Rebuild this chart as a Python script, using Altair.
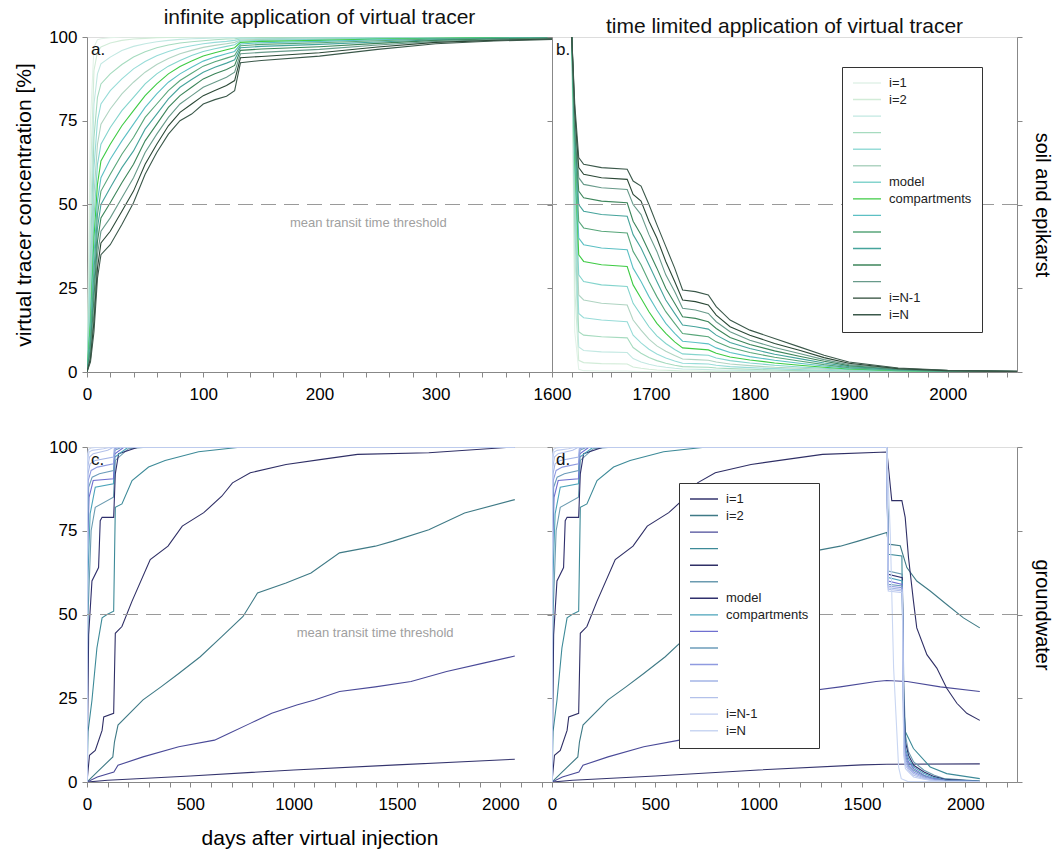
import altair as alt
import pandas as pd

FONT = "Liberation Sans"

SERIES = ["s01", "s02", "s03", "s04", "s05", "s06", "s07", "s08",
          "s09", "s10", "s11", "s12", "s13", "s14", "s15"]
LEGEND_LABELS = ["i=1", "i=2", "", "", "", "", "model", "compartments",
                 "", "", "", "", "", "i=N-1", "i=N"]

GREEN = ["#e2f2e8", "#d2ecd8", "#c2e8e2", "#a6dbbf", "#98dcd8", "#b0d4c2", "#84d4cd",
         "#3ecb44", "#5cc0c4", "#58a67a", "#46a49c", "#3c855a", "#689a8a", "#2b4836", "#3b584a"]
BLUE = ["#34346e", "#3f7a86", "#4a4a98", "#3d8a98", "#2f2f66", "#6b9bb0", "#2f2f6c",
        "#4aa3ba", "#6f6fd0", "#6c9cba", "#8f9ae0", "#a3b4e6", "#b3c1ea", "#c0cdf0", "#c9d6f2"]

THRESHOLD = [50]
THRESHOLD_LABEL = ["mean transit time threshold"]

# ---------- panel a: infinite application, soil and epikarst ----------
A_X = [0, 3, 6, 9, 12, 20, 30, 40, 50, 60, 70, 80, 90, 100, 110, 120, 127, 132,
       150, 200, 250, 300, 350, 400]
A_Y = [
    [0, 75, 97, 99.2, 99.5, 99.8, 100, 100, 100, 100, 100, 100, 100, 100, 100, 100, 100, 100, 100, 100, 100, 100, 100, 100],
    [0, 58, 90, 95.5, 97, 98.2, 99, 99.4, 99.6, 99.8, 99.9, 99.9, 100, 100, 100, 100, 100, 100, 100, 100, 100, 100, 100, 100],
    [0, 45, 80, 89, 92, 94, 96, 97.2, 98, 98.6, 99, 99.3, 99.5, 99.6, 99.7, 99.8, 99.8, 99.9, 99.9, 100, 100, 100, 100, 100],
    [0, 35, 70, 82, 86, 89, 91.8, 94, 95.6, 96.8, 97.6, 98.2, 98.6, 98.9, 99.2, 99.4, 99.5, 99.7, 99.8, 99.9, 99.9, 100, 100, 100],
    [0, 28, 61, 75, 80, 84, 87.5, 90.5, 92.7, 94.4, 95.7, 96.7, 97.4, 98, 98.4, 98.7, 99, 99.4, 99.5, 99.7, 99.8, 99.9, 100, 100],
    [0, 22, 53, 68, 74, 78.5, 83, 86.5, 89.5, 91.8, 93.6, 95, 96, 96.9, 97.5, 98, 98.4, 99.1, 99.3, 99.5, 99.7, 99.8, 99.9, 100],
    [0, 18, 46, 62, 68, 73, 78, 82, 86, 89, 91.3, 93, 94.5, 95.7, 96.5, 97.2, 97.7, 98.8, 99, 99.3, 99.6, 99.7, 99.9, 99.9],
    [0, 15, 40, 56, 63, 68, 73.5, 78, 82.5, 86, 89, 91.2, 92.8, 94.3, 95.3, 96.2, 96.8, 98.4, 98.7, 99, 99.4, 99.6, 99.8, 99.9],
    [0, 12, 35, 51, 58, 63.5, 69, 74, 79, 83, 86.5, 89, 91, 92.8, 94, 95, 95.7, 97.9, 98.3, 98.7, 99.2, 99.5, 99.7, 99.8],
    [0, 10, 30, 47, 54, 59, 65, 70, 76, 80, 84, 87, 89.2, 91.3, 92.6, 93.7, 94.5, 97.4, 97.8, 98.3, 98.9, 99.4, 99.6, 99.8],
    [0, 8, 26, 43, 50, 55, 61, 66, 72.5, 77, 81.5, 85, 87.3, 89.5, 91, 92.2, 93.2, 96.8, 97.2, 97.8, 98.5, 99.2, 99.5, 99.7],
    [0, 6, 22, 39, 46, 50.5, 56.5, 62, 69, 74, 79, 82.5, 85, 87.5, 89, 90.3, 91.5, 96, 96.4, 97.1, 98.1, 99, 99.4, 99.6],
    [0, 5, 18, 35, 42, 46, 52, 58, 65.5, 71, 76, 80, 82.5, 85, 86.5, 88, 89.5, 95, 95.4, 96.3, 97.6, 98.7, 99.2, 99.5],
    [0, 4, 15, 31, 38.5, 42, 48, 54, 62, 68, 73.5, 77.5, 80, 82.5, 84, 85.5, 87, 93.8, 94.2, 95.3, 97, 98.4, 99, 99.4],
    [0, 3, 12, 28, 35, 38, 44, 50.5, 59, 65.5, 71, 75, 77, 80, 81.3, 82.3, 84, 92.3, 93, 94.3, 96.3, 98, 98.8, 99.3],
]

# ---------- panel b: time limited application, soil and epikarst ----------
B_X = [1620, 1623, 1627, 1632, 1650, 1676, 1682, 1690, 1698, 1706, 1715, 1724, 1732,
       1745, 1758, 1766, 1780, 1800, 1825, 1850, 1875, 1900, 1950, 2000, 2070]
B_Y = [
    [100, 12, 0.8, 0.4, 0.3, 0.3, 0.2, 0.1, 0.1, 0, 0, 0, 0, 0, 0, 0, 0, 0, 0, 0, 0, 0, 0, 0, 0],
    [100, 25, 3.5, 2.8, 2.5, 2.4, 1.5, 1.1, 0.8, 0.6, 0.5, 0.4, 0.3, 0.3, 0.2, 0.2, 0.1, 0.1, 0.1, 0, 0, 0, 0, 0, 0],
    [100, 36, 7.5, 6.4, 6, 5.8, 4, 3, 2.3, 1.8, 1.4, 1.1, 0.9, 0.8, 0.7, 0.6, 0.5, 0.4, 0.3, 0.2, 0.1, 0.1, 0, 0, 0],
    [100, 44, 12, 11, 10.5, 10.2, 7.3, 5.6, 4.3, 3.4, 2.6, 2, 1.6, 1.5, 1.4, 1.2, 1, 0.8, 0.6, 0.4, 0.3, 0.2, 0.1, 0, 0],
    [100, 50, 17.5, 16.2, 15.5, 15, 11, 8.7, 6.8, 5.4, 4.2, 3.3, 2.6, 2.5, 2.4, 2, 1.6, 1.3, 1, 0.7, 0.5, 0.3, 0.1, 0, 0],
    [100, 56, 23, 21.5, 20.5, 20, 15.5, 12.5, 9.8, 7.8, 6.2, 4.9, 3.9, 3.7, 3.5, 3, 2.4, 1.9, 1.4, 1.1, 0.8, 0.5, 0.2, 0.1, 0],
    [100, 60, 29, 27, 26, 25.5, 20.5, 17, 13.5, 10.8, 8.5, 6.7, 5.4, 5.2, 5, 4.2, 3.4, 2.7, 2, 1.5, 1.1, 0.7, 0.3, 0.1, 0],
    [100, 64, 35, 33, 32, 31.5, 26, 22, 18, 14.5, 11.5, 9, 7.2, 6.9, 6.6, 5.6, 4.5, 3.6, 2.7, 2, 1.4, 0.9, 0.4, 0.2, 0.1],
    [100, 67, 40, 38, 37, 36.5, 31, 27, 22.5, 18.5, 14.5, 11.5, 9.2, 8.8, 8.4, 7.2, 5.8, 4.6, 3.5, 2.6, 1.8, 1.1, 0.5, 0.2, 0.1],
    [100, 70, 45, 43, 42, 41.5, 36, 32, 27, 22.5, 18, 14.5, 11.5, 11, 10.5, 9, 7.3, 5.8, 4.4, 3.3, 2.2, 1.3, 0.6, 0.2, 0.1],
    [100, 72, 50, 48, 47, 46.5, 41, 37, 32, 27, 21.5, 17.5, 14, 13.5, 12.8, 11, 8.8, 7, 5.3, 4, 2.7, 1.6, 0.7, 0.3, 0.1],
    [100, 74, 54, 52, 51, 50.5, 45, 41, 36, 31, 25, 20.5, 16.5, 16, 15, 13, 10.3, 8.2, 6.3, 4.7, 3.2, 1.9, 0.8, 0.3, 0.1],
    [100, 76, 58, 56, 55, 54.5, 50, 47, 41, 36, 29, 24, 19, 18.5, 17.5, 15, 12, 9.5, 7.3, 5.5, 3.7, 2.2, 0.9, 0.4, 0.2],
    [100, 78, 61, 59, 58, 57.5, 53, 51, 45, 40, 33, 27, 21.5, 21, 20, 17, 13.5, 11, 8.5, 6.5, 4.3, 2.6, 1.0, 0.4, 0.2],
    [100, 80, 64, 62, 61, 60.5, 57, 55.5, 50, 44, 37.5, 31, 24.5, 24, 23, 19.5, 15.5, 12.5, 10, 7.5, 5, 3, 1.2, 0.5, 0.2],
]

# ---------- panel c: infinite application, groundwater ----------
C_X = [
    [0, 100, 500, 1000, 1500, 2070],
    [0, 50, 125, 133, 150, 271, 358, 444, 548, 652, 755, 825, 963, 1084, 1222, 1395, 1481, 1654, 1827, 2070],
    [0, 50, 130, 150, 271, 444, 617, 686, 790, 894, 1015, 1101, 1222, 1395, 1568, 1740, 1913, 2070],
    [0, 5, 24, 48, 73, 97, 129, 137, 169, 218, 298, 378, 540, 750, 2070],
    [0, 12, 40, 73, 81, 129, 137, 169, 218, 306, 392, 461, 565, 652, 704, 790, 963, 1136, 1309, 1654, 2070],
    [0, 5, 20, 40, 128, 137, 200, 300, 2070],
    [0, 8, 24, 56, 64, 73, 129, 137, 153, 250, 2070],
    [0, 4, 15, 40, 128, 135, 200, 2070],
    [0, 3, 10, 30, 128, 135, 180, 2070],
    [0, 3, 8, 25, 60, 128, 135, 170, 2070],
    [0, 2, 6, 20, 50, 128, 135, 160, 2070],
    [0, 2, 5, 15, 40, 128, 132, 150, 2070],
    [0, 1.5, 4, 12, 30, 100, 130, 2070],
    [0, 1, 3, 10, 25, 80, 120, 2070],
    [0, 1, 3, 8, 20, 60, 2070],
]
C_Y = [
    [0, 0.5, 1.8, 3.6, 5.1, 6.8],
    [0, 3, 7.5, 12, 17, 24.5, 28.4, 32.4, 37.4, 43.4, 49.4, 56.4, 59.4, 62.4, 68.4, 70.4, 71.9, 75.3, 80.3, 84.3],
    [0, 1.5, 3, 5, 7.5, 10.5, 12.5, 14.5, 17.5, 20.5, 23, 24.5, 27, 28.4, 30, 33, 35.4, 37.6],
    [0, 15, 24.4, 40, 49, 50, 51, 82, 83, 90, 94, 96, 98.6, 100, 100],
    [0, 8, 9.4, 15.4, 19.4, 20.5, 44.4, 46.4, 54, 66.4, 70.4, 76.4, 80.4, 85.3, 89.3, 92.3, 94.8, 96.3, 97.8, 98.3, 100],
    [0, 50, 75, 82, 85, 96, 99.5, 100, 100],
    [0, 44, 60, 64, 78, 79, 79, 92, 98, 100, 100],
    [0, 60, 80, 88, 89, 97, 100, 100],
    [0, 70, 85, 90, 90.5, 98, 100, 100],
    [0, 75, 88, 91, 92, 93, 99, 100, 100],
    [0, 80, 90, 93, 94, 95, 99.5, 100, 100],
    [0, 85, 92, 95, 96, 97, 99.6, 100, 100],
    [0, 88, 94, 97, 98, 99, 100, 100],
    [0, 90, 96, 98.5, 99, 99.5, 100, 100],
    [0, 93, 98, 99.3, 99.7, 100, 100],
]

# ---------- panel d: after the application stops (day 1620) ----------
D_X = [
    [1620, 2070],
    [1620, 1628, 1685, 1717, 1765, 1830, 1910, 1991, 2070],
    [1620, 1718, 1879, 2070],
    [1620, 1628, 1693, 1700, 1710, 1749, 1830, 1910, 2070],
    [1620, 1623, 1644, 1693, 1709, 1725, 1749, 1765, 1814, 1862, 1910, 1959, 2007, 2070],
    [1620, 1627, 1695, 1702, 1710, 1725, 1750, 1800, 1850, 1900, 2070],
    [1620, 1627, 1695, 1702, 1710, 1725, 1750, 1800, 1850, 1900, 2070],
    [1620, 1627, 1695, 1702, 1710, 1725, 1750, 1800, 1850, 1900, 2070],
    [1620, 1627, 1695, 1702, 1710, 1725, 1750, 1800, 1850, 1900, 2070],
    [1620, 1627, 1695, 1702, 1710, 1725, 1750, 1800, 1850, 1900, 2070],
    [1620, 1627, 1695, 1702, 1710, 1725, 1750, 1800, 1850, 1900, 2070],
    [1620, 1627, 1695, 1702, 1710, 1725, 1750, 1800, 1850, 1900, 2070],
    [1620, 1627, 1695, 1702, 1710, 1725, 1750, 1800, 1850, 1900, 2070],
    [1620, 1627, 1695, 1702, 1710, 1725, 1750, 1800, 1850, 1900, 2070],
    [1620, 1637, 1653, 1677, 1690, 1720, 2070],
]
D_Y = [
    [5.3, 5.4],
    [74.5, 71, 70.5, 64, 60, 57, 53, 49, 46],
    [30.3, 30, 28.4, 27],
    [100, 68, 67.5, 25, 15, 10, 4.5, 2.5, 1],
    [98.5, 97, 84, 84, 79, 67, 54, 46, 38, 34, 28, 23.5, 20.5, 18.4],
    [100, 63, 62, 30, 14, 9, 6, 3.5, 2, 1, 0.3],
    [100, 62, 61, 25, 12, 8, 5, 3, 1.6, 0.8, 0.2],
    [100, 61, 60, 20, 10, 7, 4.5, 2.5, 1.3, 0.6, 0.2],
    [100, 60, 59, 18, 9, 6, 4, 2, 1, 0.5, 0.1],
    [100, 59, 58.5, 15, 8, 5, 3.5, 1.8, 0.8, 0.4, 0.1],
    [100, 58.5, 58, 13, 7, 4.5, 3, 1.5, 0.7, 0.3, 0.1],
    [100, 58, 57.5, 11, 6, 4, 2.5, 1.2, 0.5, 0.2, 0],
    [100, 57.5, 57, 10, 5, 3.5, 2, 1, 0.4, 0.2, 0],
    [100, 57, 56.5, 8, 4, 3, 1.5, 0.8, 0.3, 0.1, 0],
    [100, 74, 34, 4.5, 1, 0.2, 0],
]

A_TICKS = [0, 20, 40, 60, 80, 100, 120, 140, 160, 180, 200, 220, 240, 260, 280, 300, 320, 340, 360, 380]
B_TICKS = [1600, 1620, 1640, 1660, 1680, 1700, 1720, 1740, 1760, 1780, 1800, 1820, 1840, 1860,
           1880, 1900, 1920, 1940, 1960, 1980, 2000, 2020, 2040, 2060]
CD_TICKS = [0, 100, 200, 300, 400, 500, 600, 700, 800, 900, 1000, 1100, 1200, 1300, 1400,
            1500, 1600, 1700, 1800, 1900, 2000, 2100, 2200]
Y_TICKS = [0, 25, 50, 75, 100]


def grid_df(xs, rows):
    recs = []
    for k, row in enumerate(rows):
        for x, y in zip(xs, row):
            recs.append({"x": x, "y": y, "s": SERIES[k]})
    return pd.DataFrame(recs)


def curve_df(xs_list, ys_list):
    recs = []
    for k, (xs, ys) in enumerate(zip(xs_list, ys_list)):
        for x, y in zip(xs, ys):
            recs.append({"x": x, "y": y, "s": SERIES[k]})
    return pd.DataFrame(recs)


df_a = grid_df(A_X, A_Y)
df_b = grid_df(B_X, B_Y)
df_c = curve_df(C_X, C_Y)
d_x, d_y = [], []
for k in range(15):
    xs = [x for x in C_X[k] if x < 1620] + D_X[k]
    ys = [y for x, y in zip(C_X[k], C_Y[k]) if x < 1620] + D_Y[k]
    d_x.append(xs)
    d_y.append(ys)
df_d = curve_df(d_x, d_y)

label_expr = "''"
for s, lab in reversed(list(zip(SERIES, LEGEND_LABELS))):
    label_expr = f"datum.value === '{s}' ? '{lab}' : ({label_expr})"

W, H = 465, 335
YSCALE = alt.Scale(domain=[0, 100], nice=False, zero=False)
TITLE_SIZE = 21
LABEL_SIZE = 17


def make_legend(lx, ly):
    return alt.Legend(orient="none", legendX=lx, legendY=ly, title=None,
                      symbolType="stroke", symbolSize=784, symbolStrokeWidth=1.4,
                      clipHeight=12, rowPadding=3.55, padding=10,
                      strokeColor="#333333", fillColor="white",
                      labelFontSize=13, labelFont=FONT, labelColor="#222222",
                      labelOffset=7, labelLimit=200, labelExpr=label_expr)


def panel(df, xdom, xticks, major, colors, letter, legend=None, left_labels=False,
          ytitle=None, xtitle=None, right_title=None, title=None, thr_xy=None):
    xscale = alt.Scale(domain=xdom, nice=False, zero=False)
    xaxis = alt.Axis(values=xticks, format="d", labelFlush=False, grid=False,
                     labelExpr=f"datum.value % {major} === 0 ? datum.label : ''",
                     tickSize=5, labelPadding=9, labelFontSize=LABEL_SIZE, title=xtitle,
                     titleFontSize=TITLE_SIZE, titleFontWeight="normal", titlePadding=15)
    yaxis = alt.Axis(values=Y_TICKS, labels=left_labels, tickSize=5, labelPadding=5,
                     grid=False, labelFontSize=LABEL_SIZE, title=ytitle,
                     titleFontSize=TITLE_SIZE, titleFontWeight="normal", titlePadding=14)
    lines = alt.Chart(df).mark_line(strokeWidth=1.1, clip=True).encode(
        x=alt.X("x:Q", scale=xscale, axis=xaxis),
        y=alt.Y("y:Q", scale=YSCALE, axis=yaxis),
        color=alt.Color("s:N", scale=alt.Scale(domain=SERIES, range=colors),
                        legend=legend),
        detail="s:N",
    )
    if right_title:
        raxis = alt.Axis(orient="right", values=Y_TICKS, labels=False, tickSize=5, grid=False,
                         title=right_title, titleFontSize=20, titleFontWeight="normal",
                         titlePadding=9, titleAngle=90)
    else:
        raxis = None
    rule = alt.Chart(pd.DataFrame({"t": THRESHOLD})).mark_rule(
        color="#9a9a9a", strokeDash=[15, 8], strokeWidth=1).encode(
        y=alt.Y("t:Q", scale=YSCALE, axis=raxis))
    lab = alt.Chart(pd.DataFrame({"t": [letter]})).mark_text(
        align="left", baseline="alphabetic", fontSize=17, font=FONT, color="#111111").encode(
        text="t:N", x=alt.value(4), y=alt.value(18))
    layers = [lines, rule]
    if thr_xy is not None:
        tdf = pd.DataFrame({"x": [thr_xy[0]], "y": [thr_xy[1]], "t": THRESHOLD_LABEL})
        txt = alt.Chart(tdf).mark_text(fontSize=13, font=FONT, color="#a0a0a0").encode(
            x=alt.X("x:Q", scale=xscale, axis=xaxis),
            y=alt.Y("y:Q", scale=YSCALE, axis=None),
            text="t:N")
        layers.append(txt)
    layers.append(lab)
    ch = alt.layer(*layers).resolve_axis(y="independent").properties(width=W, height=H)
    if title:
        ch = ch.properties(title=alt.TitleParams(title, fontSize=TITLE_SIZE, fontWeight="normal",
                                                 font=FONT, color="#111111", offset=0))
    return ch


pa = panel(df_a, [0, 400], A_TICKS, 100, GREEN, "a.", left_labels=True,
           ytitle="virtual tracer concentration [%]",
           title="infinite application of virtual tracer", thr_xy=(242, 44.5))
pb = panel(df_b, [1600, 2070], B_TICKS, 100, GREEN, "b.", legend=make_legend(290, 30),
           right_title="soil and epikarst",
           title="time limited application of virtual tracer")
pc = panel(df_c, [0, 2250], CD_TICKS, 500, BLUE, "c.", left_labels=True,
           xtitle="days after virtual injection", thr_xy=(1394, 44.6))
pd_ = panel(df_d, [0, 2250], CD_TICKS, 500, BLUE, "d.", legend=make_legend(127, 36),
            right_title="groundwater")

chart = alt.concat(pa, pb, pc, pd_, columns=2, spacing={"row": 75, "column": 0},
                   bounds="flush").resolve_scale(
    color="independent").resolve_legend(color="independent").properties(
    padding={"left": 13, "top": 6, "right": 3, "bottom": 5}
).configure_view(stroke="#7a7a7a", strokeWidth=1).configure_axis(
    grid=False, domainColor="#7a7a7a", tickColor="#555555", labelFont=FONT,
    titleFont=FONT, labelColor="#111111", titleColor="#111111", domainWidth=1, tickWidth=1
).configure(background="white")

chart.save("out.html", embed_options={"renderer": "svg", "actions": False})
